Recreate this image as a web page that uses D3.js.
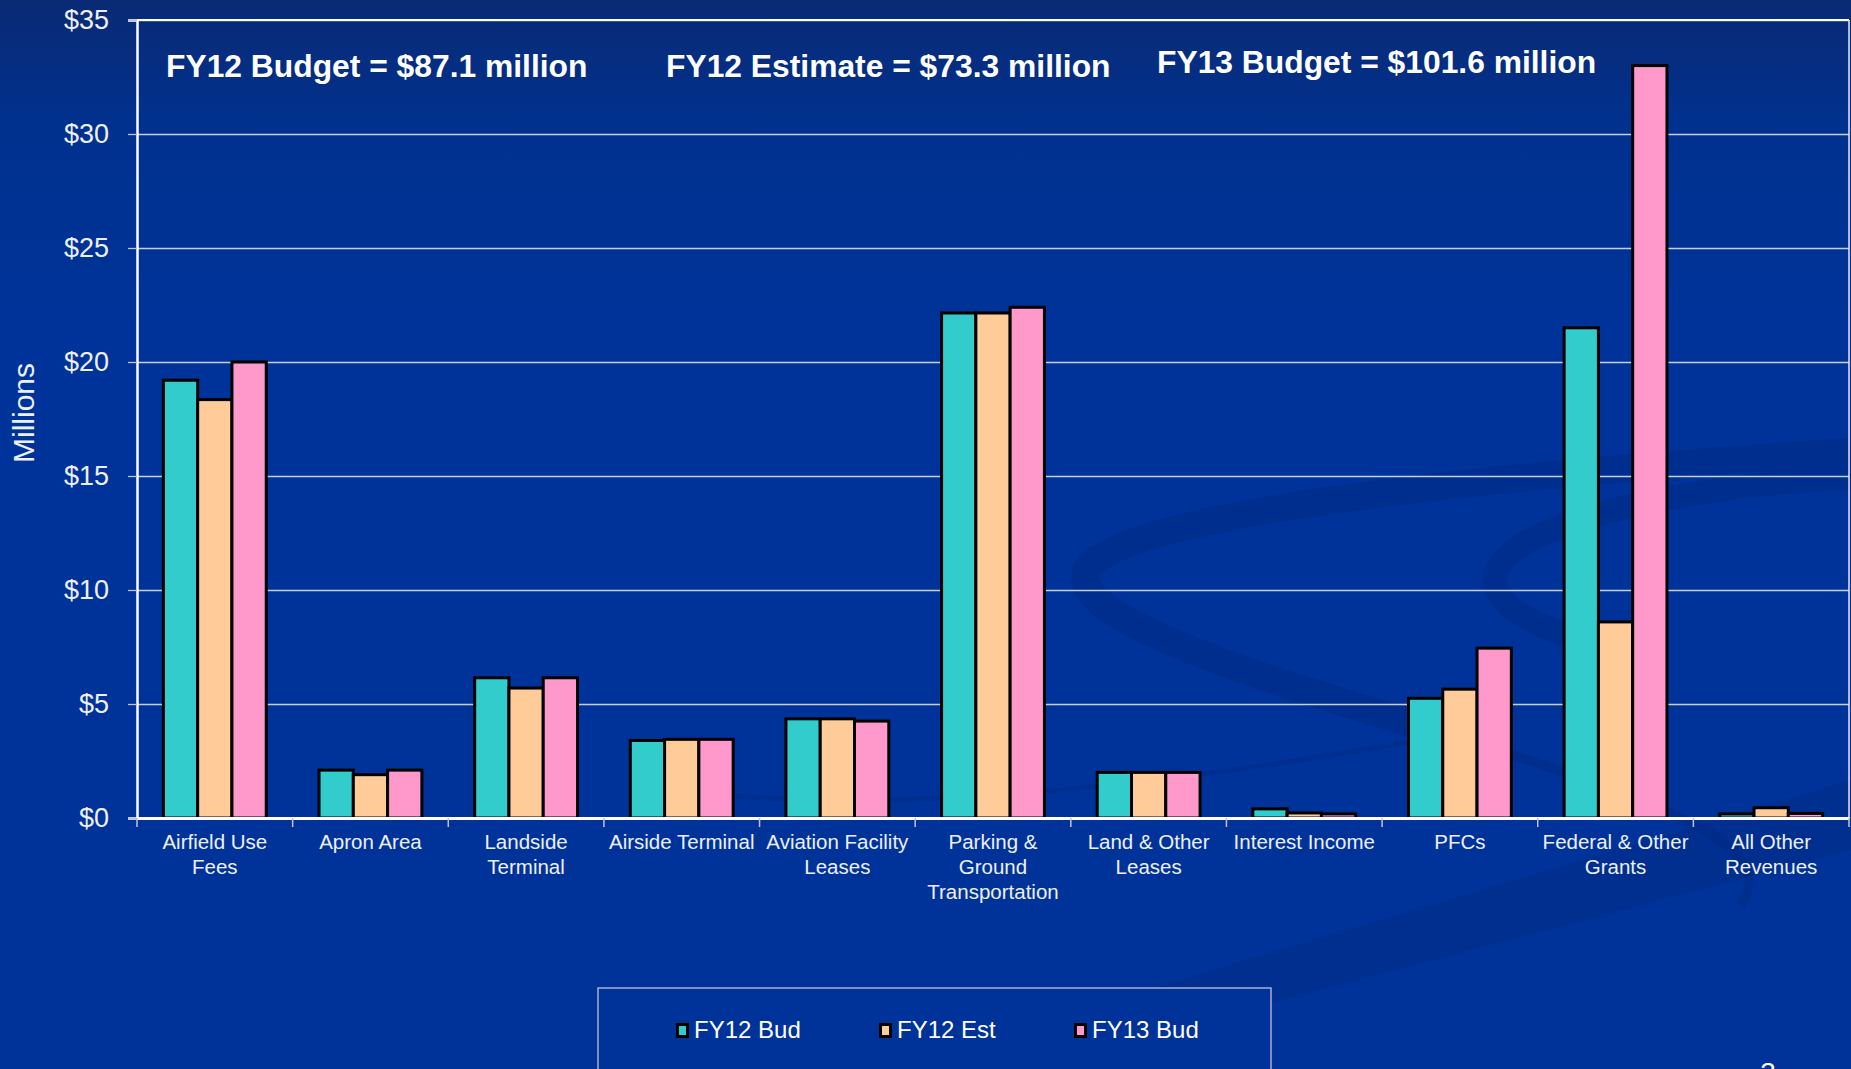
<!DOCTYPE html>
<html>
<head>
<meta charset="utf-8">
<script src="https://cdn.jsdelivr.net/npm/d3@7"></script>
<style>
  html, body { margin: 0; padding: 0; background: #003399; overflow: hidden; }
  svg { display: block; }
  text { font-family: "Liberation Sans", Arial, sans-serif; }
</style>
</head>
<body>
<svg id="chart" width="1851" height="1069"></svg>
<script>
// Chart data (millions of dollars)
const categories = ["Airfield Use Fees", "Apron Area", "Landside Terminal", "Airside Terminal",
    "Aviation Facility Leases", "Parking & Ground Transportation", "Land & Other Leases",
    "Interest Income", "PFCs", "Federal & Other Grants", "All Other Revenues"];
const tickLabels = [["Airfield Use", "Fees"], ["Apron Area"], ["Landside", "Terminal"], ["Airside Terminal"],
    ["Aviation Facility", "Leases"], ["Parking &", "Ground", "Transportation"], ["Land & Other", "Leases"],
    ["Interest Income"], ["PFCs"], ["Federal & Other", "Grants"], ["All Other", "Revenues"]];
const seriesNames = ["FY12 Bud", "FY12 Est", "FY13 Bud"];
const fy12Bud = [19.2, 2.1, 6.15, 3.4, 4.35, 22.15, 2.0, 0.4, 5.25, 21.5, 0.18];
const fy12Est = [18.35, 1.9, 5.7, 3.45, 4.35, 22.15, 2.0, 0.22, 5.65, 8.6, 0.45];
const fy13Bud = [20.0, 2.1, 6.15, 3.45, 4.25, 22.4, 2.0, 0.18, 7.45, 33.0, 0.2];
const yTicks = [0, 5, 10, 15, 20, 25, 30, 35];
const headerTexts = ["FY12 Budget = $87.1 million", "FY12 Estimate = $73.3 million", "FY13 Budget = $101.6 million"];

const seriesColors = ["#33CCCC", "#FFCC99", "#FF99CC"];
const W = 1851, H = 1069;
const plot = { left: 137, right: 1849, top: 20, bottom: 818 };

const svg = d3.select("#chart");

// background
const defs = svg.append("defs");
const grad = defs.append("linearGradient").attr("id", "bg").attr("x1", 0).attr("y1", 0).attr("x2", 0).attr("y2", 1);
grad.append("stop").attr("offset", "0").attr("stop-color", "#0a2a74");
grad.append("stop").attr("offset", "0.12").attr("stop-color", "#00318f");
grad.append("stop").attr("offset", "0.3").attr("stop-color", "#003399");
grad.append("stop").attr("offset", "1").attr("stop-color", "#003399");
svg.append("rect").attr("width", W).attr("height", H).attr("fill", "url(#bg)");

// faint swoosh decoration of the slide template
const deco = svg.append("g").attr("fill", "none").attr("stroke", "#00287f").attr("stroke-opacity", 0.4);
deco.append("path").attr("d", "M1851 452 C1600 468 1130 505 1088 568 C1060 615 1240 672 1450 735")
    .attr("stroke-width", 28);
deco.append("path").attr("d", "M1450 735 C1620 790 1790 840 1740 905").attr("stroke-width", 10);
deco.append("path").attr("d", "M1851 478 C1700 484 1510 520 1495 575 C1488 615 1570 640 1660 660")
    .attr("stroke-width", 24);
deco.append("path").attr("d", "M680 790 C900 820 1200 780 1450 735").attr("stroke-width", 5);
svg.append("path").attr("d", "M880 1069 L1851 780 L1851 850 L1020 1069 Z")
    .attr("fill", "#00277e").attr("fill-opacity", 0.35);

// scales
const y = d3.scaleLinear().domain([0, 35]).range([plot.bottom, plot.top]);
const x0 = d3.scaleBand().domain(categories).range([plot.left, plot.right]).paddingInner(0).paddingOuter(0);
const x1 = d3.scaleBand().domain(seriesNames).range([0, x0.bandwidth()]).paddingOuter(0.77).paddingInner(0);

// gridlines
svg.append("g")
    .attr("transform", `translate(${plot.left},0)`)
    .call(d3.axisLeft(y).tickValues(yTicks).tickSize(-(plot.right - plot.left)).tickFormat(""))
    .call(g => g.select(".domain").remove())
    .call(g => g.selectAll("line").attr("stroke", "#c9cde0").attr("stroke-width", 1.3));

// plot border (top + right)
svg.append("line").attr("x1", plot.left).attr("x2", plot.right).attr("y1", plot.top).attr("y2", plot.top)
    .attr("stroke", "#ffffff").attr("stroke-width", 2);
svg.append("line").attr("x1", plot.right).attr("x2", plot.right).attr("y1", plot.top).attr("y2", plot.bottom)
    .attr("stroke", "#e8e8f0").attr("stroke-width", 1.5);

// y axis
const yAxis = svg.append("g")
    .attr("transform", `translate(${plot.left},0)`)
    .call(d3.axisLeft(y).tickValues(yTicks).tickSize(9).tickPadding(19).tickFormat(d => "$" + d));
yAxis.select(".domain").attr("stroke", "#ffffff").attr("stroke-width", 2.5);
yAxis.selectAll(".tick line").attr("stroke", "#c0c4d8").attr("stroke-width", 1.3);
yAxis.selectAll(".tick text").attr("fill", "#eef0f8").style("font-size", "27px");

// bars
const seriesData = [fy12Bud, fy12Est, fy13Bud];
const groups = svg.append("g").selectAll("g")
    .data(categories)
    .enter().append("g")
    .attr("transform", d => `translate(${x0(d)},0)`);
groups.selectAll("rect")
    .data((d, i) => seriesNames.map((s, j) => ({ s, v: seriesData[j][i], j })))
    .enter().append("rect")
    .attr("x", d => x1(d.s))
    .attr("y", d => y(d.v))
    .attr("width", x1.bandwidth())
    .attr("height", d => y(0) - y(d.v))
    .attr("fill", d => seriesColors[d.j])
    .attr("stroke", "#000")
    .attr("stroke-width", 3);

// x axis
const xAxis = svg.append("g")
    .attr("transform", `translate(0,${plot.bottom})`)
    .call(d3.axisBottom(x0).tickSize(0).tickFormat(""));
xAxis.select(".domain").attr("stroke", "#ffffff").attr("stroke-width", 3);
// category boundary ticks
svg.append("g").selectAll("line")
    .data(categories.concat(["end"]))
    .enter().append("line")
    .attr("x1", (d, i) => plot.left + i * x0.step())
    .attr("x2", (d, i) => plot.left + i * x0.step())
    .attr("y1", plot.bottom)
    .attr("y2", plot.bottom + 9)
    .attr("stroke", "#c0c4d8").attr("stroke-width", 1.5);

// category labels
const lab = svg.append("g").selectAll("text")
    .data(categories)
    .enter().append("text")
    .attr("x", d => x0(d) + x0.bandwidth() / 2)
    .attr("y", 849)
    .attr("text-anchor", "middle")
    .attr("fill", "#eef0f8")
    .style("font-size", "20.5px");
lab.selectAll("tspan")
    .data((d, i) => tickLabels[i])
    .enter().append("tspan")
    .attr("x", function () { return this.parentNode.getAttribute("x"); })
    .attr("dy", (d, i) => i === 0 ? 0 : 25)
    .text(d => d);

// y axis title
svg.append("text")
    .attr("transform", "translate(34,413) rotate(-90)")
    .attr("text-anchor", "middle")
    .attr("fill", "#eef0f8")
    .style("font-size", "30px")
    .text("Millions");

// header annotations
const headerPos = [[166, 77], [666, 77], [1157, 73]];
svg.append("g").selectAll("text")
    .data(headerTexts)
    .enter().append("text")
    .attr("x", (d, i) => headerPos[i][0])
    .attr("y", (d, i) => headerPos[i][1])
    .attr("fill", "#ffffff")
    .style("font-size", "31.8px")
    .style("font-weight", "bold")
    .text(d => d);

// legend
svg.append("rect").attr("x", 598).attr("y", 988).attr("width", 673).attr("height", 120)
    .attr("fill", "#003399").attr("stroke", "#a8b0cc").attr("stroke-width", 1.5);
const legendX = [676, 879, 1074];
const leg = svg.append("g").selectAll("g")
    .data(seriesNames)
    .enter().append("g")
    .attr("transform", (d, i) => `translate(${legendX[i]},1023)`);
leg.append("rect").attr("x", 1.5).attr("y", 1.5).attr("width", 10).attr("height", 12)
    .attr("fill", (d, i) => seriesColors[i]).attr("stroke", "#000").attr("stroke-width", 3);
leg.append("text").attr("x", 18).attr("y", 15)
    .attr("fill", "#ffffff").style("font-size", "24px")
    .text(d => d);

// slide number (partly below the slide edge, as in the original)
svg.append("text").attr("x", 1768).attr("y", 1082).attr("text-anchor", "middle")
    .attr("fill", "#ffffff").style("font-size", "28px").text("3");
</script>
</body>
</html>
